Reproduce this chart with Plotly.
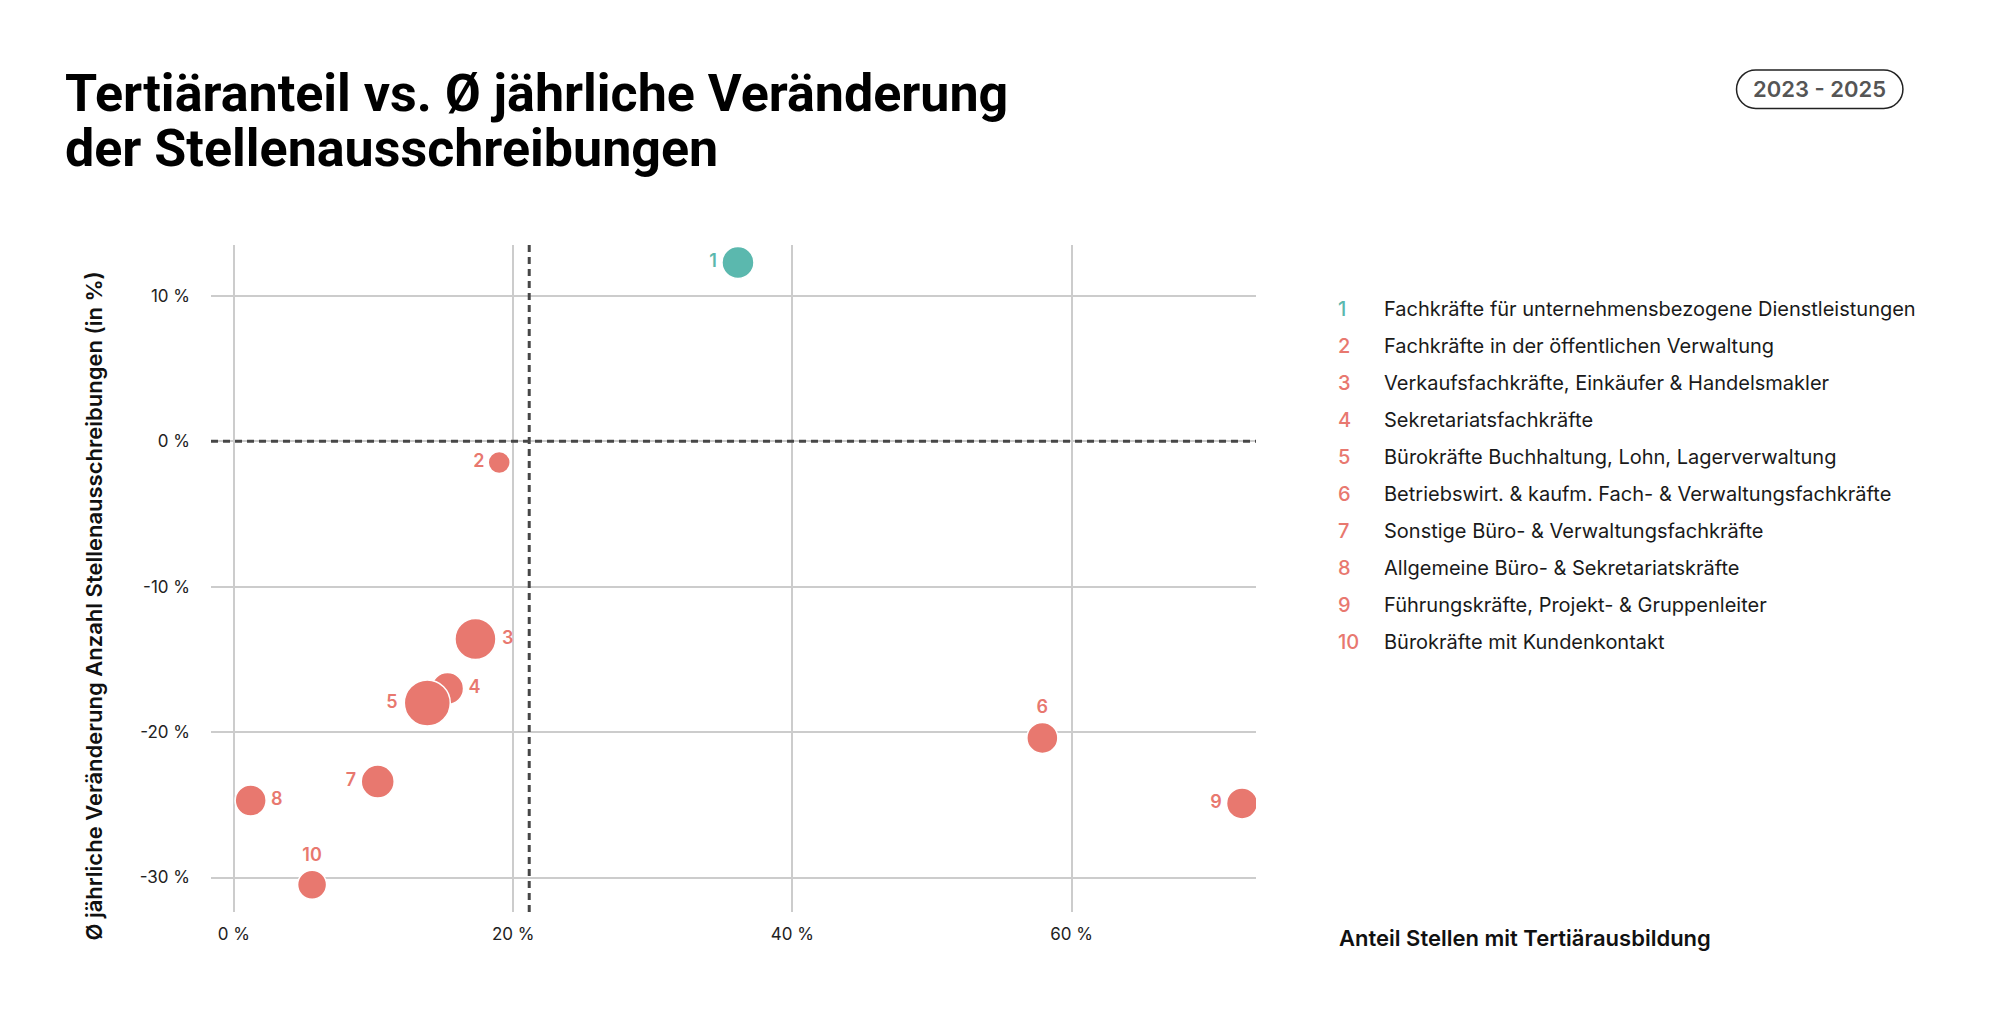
import plotly.graph_objects as go

# Daten
nummern = ["1", "2", "3", "4", "5", "6", "7", "8", "9", "10"]
berufe = [
    "Fachkräfte für unternehmensbezogene Dienstleistungen",
    "Fachkräfte in der öffentlichen Verwaltung",
    "Verkaufsfachkräfte, Einkäufer & Handelsmakler",
    "Sekretariatsfachkräfte",
    "Bürokräfte Buchhaltung, Lohn, Lagerverwaltung",
    "Betriebswirt. & kaufm. Fach- & Verwaltungsfachkräfte",
    "Sonstige Büro- & Verwaltungsfachkräfte",
    "Allgemeine Büro- & Sekretariatskräfte",
    "Führungskräfte, Projekt- & Gruppenleiter",
    "Bürokräfte mit Kundenkontakt",
]
tertiaer_anteil = [36.1, 19.0, 17.3, 15.3, 13.85, 57.9, 10.3, 1.2, 72.2, 5.6]
veraenderung = [12.3, -1.45, -13.6, -17.0, -18.0, -20.4, -23.4, -24.7, -24.9, -30.5]
blasen_groesse = [32, 22, 41, 32, 46, 31, 33, 31, 31, 29]
x_ticks = [0, 20, 40, 60]
y_ticks = [-30, -20, -10, 0, 10]
mittel_tertiaer = 21.15
zeitraum = "2023 - 2025"
titel_zeilen = ["Tertiäranteil vs. Ø jährliche Veränderung", "der Stellenausschreibungen"]

TEAL = "#5bb8ae"
KORALLE = "#e8786f"
FONT = "Inter"
DASH = dict(color="#474747", width=3, dash="7px,5px")

farben = [TEAL if v > 0 else KORALLE for v in veraenderung]
label_pos = ["middle left", "middle left", "middle right", "middle right", "middle left",
             "top center", "middle left", "middle right", "middle left", "top center"]

# Plotbereich (Pixel im Bild) für Umrechnung in paper-Koordinaten
PL, PW, PB, PH = 210.5, 1045.5, 912, 667


def px(s):
    return (s - PL) / PW


def py(s):
    return (PB - s) / PH


fig = go.Figure()
fig.add_trace(go.Scatter(
    x=tertiaer_anteil, y=veraenderung,
    mode="markers+text",
    text=nummern,
    textposition=label_pos,
    textfont=dict(family=FONT, size=18, color=farben, weight=600),
    marker=dict(size=blasen_groesse, color=farben, opacity=1,
                line=dict(color="white", width=1.5)),
    hoverinfo="skip",
    showlegend=False,
))

# Mittelwert-Linien
fig.add_shape(type="line", xref="x", yref="paper", x0=mittel_tertiaer, x1=mittel_tertiaer,
              y0=0, y1=1, line=DASH, layer="above")
fig.add_shape(type="line", xref="paper", yref="y", x0=0, x1=1, y0=0, y1=0,
              line=DASH, layer="above")

# Titel
for i, zeile in enumerate(titel_zeilen):
    fig.add_annotation(xref="paper", yref="paper", x=px(62), y=py(93.5 + i * 55), text=zeile,
                       showarrow=False, xanchor="left", yanchor="middle",
                       font=dict(family="Roboto", size=52, color="#000000", weight=700))

# Legende als Annotationen
for i, (n, b) in enumerate(zip(nummern, berufe)):
    yy = py(308.7 + i * 37.0)
    fig.add_annotation(xref="paper", yref="paper", x=px(1336.5), y=yy, text=n, showarrow=False,
                       xanchor="left", yanchor="middle",
                       font=dict(family=FONT, size=20, color=farben[i], weight=500))
    fig.add_annotation(xref="paper", yref="paper", x=px(1382.5), y=yy, text=b, showarrow=False,
                       xanchor="left", yanchor="middle",
                       font=dict(family=FONT, size=20, color="#1a1a1a"))

# Achsentitel
fig.add_annotation(xref="paper", yref="paper", x=px(1337), y=py(937.5),
                   text="Anteil Stellen mit Tertiärausbildung", showarrow=False,
                   xanchor="left", yanchor="middle",
                   font=dict(family=FONT, size=22, color="#111111", weight=600))
fig.add_annotation(xref="paper", yref="paper", x=px(93), y=py(606),
                   text="Ø jährliche Veränderung Anzahl Stellenausschreibungen (in %)",
                   showarrow=False, textangle=-90, xanchor="center", yanchor="middle",
                   font=dict(family=FONT, size=22, color="#111111", weight=600))

# Zeitraum-Badge
bx, by = px(1820), py(89.2)
fig.add_shape(type="path", xref="paper", yref="paper", xsizemode="pixel", ysizemode="pixel",
              xanchor=bx, yanchor=by,
              path=("M -64,-19.2 L 64,-19.2 C 74.6,-19.2 83.2,-10.6 83.2,0 "
                    "C 83.2,10.6 74.6,19.2 64,19.2 L -64,19.2 C -74.6,19.2 -83.2,10.6 -83.2,0 "
                    "C -83.2,-10.6 -74.6,-19.2 -64,-19.2 Z"),
              line=dict(color="#222222", width=1.5), fillcolor="rgba(0,0,0,0)")
fig.add_annotation(xref="paper", yref="paper", x=bx, y=by, text=zeitraum, showarrow=False,
                   xanchor="center", yanchor="middle",
                   font=dict(family=FONT, size=22, color="#555555", weight=600))

fig.update_layout(
    width=2000, height=1011,
    margin=dict(l=202.5, r=752, t=237, b=107),
    paper_bgcolor="white", plot_bgcolor="white",
    font=dict(family=FONT, color="#222222"),
    xaxis=dict(range=[-1.64, 73.2], tickvals=x_ticks, ticktext=[f"{v} %" for v in x_ticks],
               showgrid=True, gridcolor="#cccccc", gridwidth=1.5, zeroline=False,
               showline=False, ticks="", ticklabelstandoff=10,
               tickfont=dict(family=FONT, size=17, color="#222222")),
    yaxis=dict(range=[-32.37, 13.5], tickvals=y_ticks, ticktext=[f"{v} %" for v in y_ticks],
               showgrid=True, gridcolor="#cccccc", gridwidth=1.5, zeroline=False,
               showline=False, ticks="", ticklabelstandoff=20,
               tickfont=dict(family=FONT, size=17, color="#222222")),
)

fig.write_html("out.html")
